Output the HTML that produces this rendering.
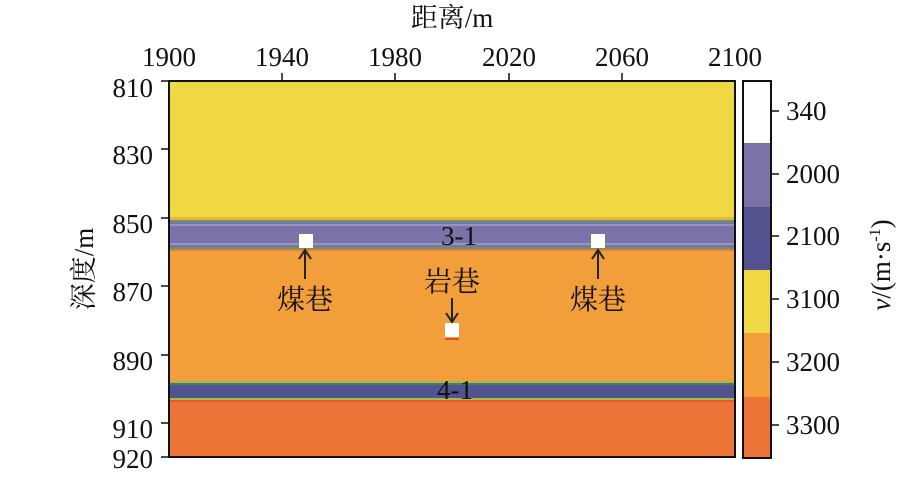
<!DOCTYPE html><html><head><style>body{margin:0;background:#fff}</style></head><body>
<svg width="924" height="472" xmlns="http://www.w3.org/2000/svg" font-family="Liberation Serif, Noto Serif CJK SC, serif" fill="#111">
<rect x="169" y="81" width="566" height="376" fill="#f0d845"/>
<rect x="169" y="217" width="566" height="3" fill="#e9b23e"/>
<rect x="169" y="220" width="566" height="2" fill="#5c9a6a"/>
<rect x="169" y="222" width="566" height="26" fill="#7b72a8"/>
<rect x="169" y="224" width="566" height="2" fill="#9a92c2"/>
<rect x="169" y="243" width="566" height="2" fill="#9a92c2"/>
<rect x="169" y="247" width="566" height="2" fill="#5c9a6a"/>
<rect x="169" y="249" width="566" height="134" fill="#f29e3a"/>
<rect x="169" y="249" width="566" height="2" fill="#ec7a3a"/>
<rect x="169" y="381" width="566" height="2" fill="#a7b84a"/>
<rect x="169" y="383" width="566" height="2" fill="#3e7e6e"/>
<rect x="169" y="385" width="566" height="13" fill="#53548f"/>
<rect x="169" y="398" width="566" height="2" fill="#9cc04a"/>
<rect x="169" y="400" width="566" height="57" fill="#ec7437"/>
<rect x="169" y="400" width="566" height="2" fill="#e85a30"/>
<path d="M169 81V457H735V81Z" fill="none" stroke="#111" stroke-width="2"/>
<rect x="299" y="234" width="14" height="14" fill="#fff"/>
<rect x="591" y="234" width="14" height="14" fill="#fff"/>
<rect x="445" y="323" width="14" height="14" fill="#fff"/>
<rect x="445" y="338" width="14" height="2" fill="#e84a30"/>
<g stroke="#222" stroke-width="2" fill="none">
<path d="M305 279V251M299 259L305 250L311 259"/>
<path d="M598 279V251M592 259L598 250L604 259"/>
<path d="M452 298V321M446 313L452 322L458 313"/>
</g>
<g font-size="28" text-anchor="middle" font-family="Noto Serif CJK SC, serif">
<text x="305" y="309">煤巷</text>
<text x="598" y="309">煤巷</text>
<text x="452" y="291">岩巷</text>
</g>
<g font-size="27" text-anchor="middle">
<text x="459" y="245">3-1</text>
<text x="455" y="399">4-1</text>
</g>
<g stroke="#111" stroke-width="1.5">
<path d="M282 81v-8M395 81v-8M509 81v-8M622 81v-8"/>
<path d="M169 81h-8M169 149h-8M169 218h-8M169 286h-8M169 355h-8M169 423h-8M169 457h-8"/>
<path d="M771 111h8M771 174h8M771 236h8M771 299h8M771 362h8M771 425h8"/>
</g>
<g font-size="27" text-anchor="middle">
<text x="169" y="66">1900</text><text x="282" y="66">1940</text><text x="395" y="66">1980</text><text x="509" y="66">2020</text><text x="622" y="66">2060</text><text x="735" y="66">2100</text>
</g>
<g font-size="27" text-anchor="end">
<text x="153" y="97">810</text><text x="153" y="164">830</text><text x="153" y="233">850</text><text x="153" y="301">870</text><text x="153" y="370">890</text><text x="153" y="438">910</text><text x="153" y="468">920</text>
</g>
<text x="452" y="27" font-size="27" text-anchor="middle" font-family="Liberation Serif, Noto Serif CJK SC, serif">距离/m</text>
<text transform="translate(93,269) rotate(-90)" font-size="27" text-anchor="middle">深度/m</text>
<rect x="743" y="81" width="28" height="62" fill="#fff"/>
<rect x="743" y="143" width="28" height="64" fill="#7b72a8"/>
<rect x="743" y="207" width="28" height="63" fill="#52528e"/>
<rect x="743" y="270" width="28" height="63" fill="#f0d845"/>
<rect x="743" y="333" width="28" height="64" fill="#f29e3a"/>
<rect x="743" y="397" width="28" height="61" fill="#ec7437"/>
<rect x="743" y="81" width="28" height="377" fill="none" stroke="#111" stroke-width="2"/>
<g font-size="27">
<text x="786" y="120">340</text><text x="786" y="183">2000</text><text x="786" y="245">2100</text><text x="786" y="308">3100</text><text x="786" y="371">3200</text><text x="786" y="434">3300</text>
</g>
<text transform="translate(890,265) rotate(-90)" font-size="27" text-anchor="middle"><tspan font-style="italic">v</tspan>/(m·s<tspan font-size="16" dy="-10">-1</tspan><tspan dy="10">)</tspan></text>
</svg>
</body></html>
